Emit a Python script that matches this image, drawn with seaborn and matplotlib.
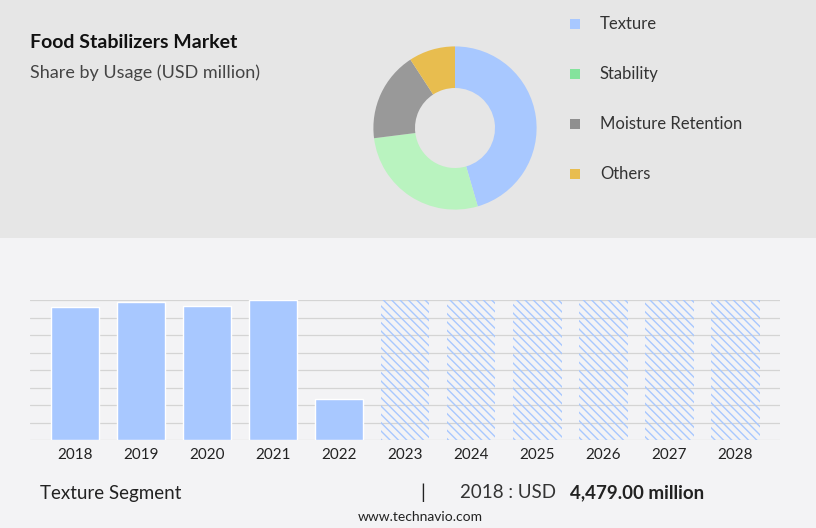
import matplotlib
matplotlib.use("Agg")
import matplotlib.pyplot as plt
import seaborn as sns
import pandas as pd
from matplotlib.patches import Rectangle

sns.set_theme(style="white")
plt.rcParams['font.family'] = ['Lato', 'DejaVu Sans']
plt.rcParams['hatch.color'] = "#a8c8ff"

usage = ["Texture", "Stability", "Moisture Retention", "Others"]
shares = [45.5, 27.5, 17.8, 9.2]
slice_colors = ["#a8c8ff", "#b9f3bf", "#999999", "#e8bd4f"]
legend_colors = ["#a8c8ff", "#84e39c", "#8f8f8f", "#e8bd4f"]

years = ["2018", "2019", "2020", "2021", "2022", "2023", "2024", "2025", "2026", "2027", "2028"]
values = [4479, 4648, 4512, 4715, 1381, 4715, 4715, 4715, 4715, 4715, 4715]
forecast = [False]*5 + [True]*6

W, H = 816, 528
fig = plt.figure(figsize=(W/100, H/100), dpi=100)
fig.patch.set_facecolor("#f3f3f5")
fig.patches.append(Rectangle((0, 1-238/H), 1, 238/H, transform=fig.transFigure,
                             facecolor="#e6e6e6", edgecolor="none", zorder=-10))

fig.text(30/W, 1-43/H, "Food Stabilizers Market", fontsize=14, fontweight="bold", va="center", color="#111")
fig.text(30/W, 1-73/H, "Share by Usage (USD million)", fontsize=13, va="center", color="#444")

# donut
r = 102
axp = fig.add_axes([(455-r)/W, 1-(128+r)/H, 2*r/W, 2*r/H])
axp.pie(shares, colors=slice_colors, startangle=90, counterclock=False,
        wedgeprops=dict(width=52/r, edgecolor="none"))
axp.set_aspect("equal")

for i, (u, c) in enumerate(zip(usage, legend_colors)):
    y = 1-(24+50*i)/H
    fig.patches.append(Rectangle((570/W, y-5/H), 10/W, 10/H, transform=fig.transFigure,
                                 facecolor=c, edgecolor="none"))
    fig.text(600/W, y, u, fontsize=12, va="center", color="#333")

# bars
ax = fig.add_axes([30/W, 1-440/H, 750/W, 140/H])
ax.set_facecolor("none")
df = pd.DataFrame({"year": years, "value": values})
sns.barplot(data=df, x="year", y="value", color="#a8c8ff", width=0.74, ax=ax, saturation=1)
for p, f in zip(ax.patches, forecast):
    if f:
        p.set_facecolor("none")
        p.set_hatch("\\\\\\\\")
        p.set_edgecolor("#a8c8ff")
        p.set_linewidth(0)
ax.set_ylim(0, 4715)
ax.set_xlim(-0.682, 10.68)
for k in range(9):
    ax.axhline(4715*k/8, color="#d4d4d4", lw=0.9, zorder=0)
ax.set_yticks([])
ax.set_xlabel(""); ax.set_ylabel("")
ax.tick_params(axis="x", length=0, labelsize=11, labelcolor="#222", pad=6)
for s in ax.spines.values():
    s.set_visible(False)

fig.text(40/W, 1-493/H, "Texture Segment", fontsize=13.5, va="center", color="#222")
fig.text(420/W, 1-493/H, "|", fontsize=14, va="center", color="#222")
fig.text(460/W, 1-493/H, "2018 : USD", fontsize=13.5, va="center", color="#333")
fig.text(570/W, 1-493/H, "4,479.00 million", fontsize=13.5, fontweight="bold", va="center", ha="left", color="#222")
fig.text(420/W, 1-517/H, "www.technavio.com", fontsize=10, va="center", ha="center", color="#222")

fig.savefig("out.png", dpi=100, facecolor=fig.get_facecolor())
